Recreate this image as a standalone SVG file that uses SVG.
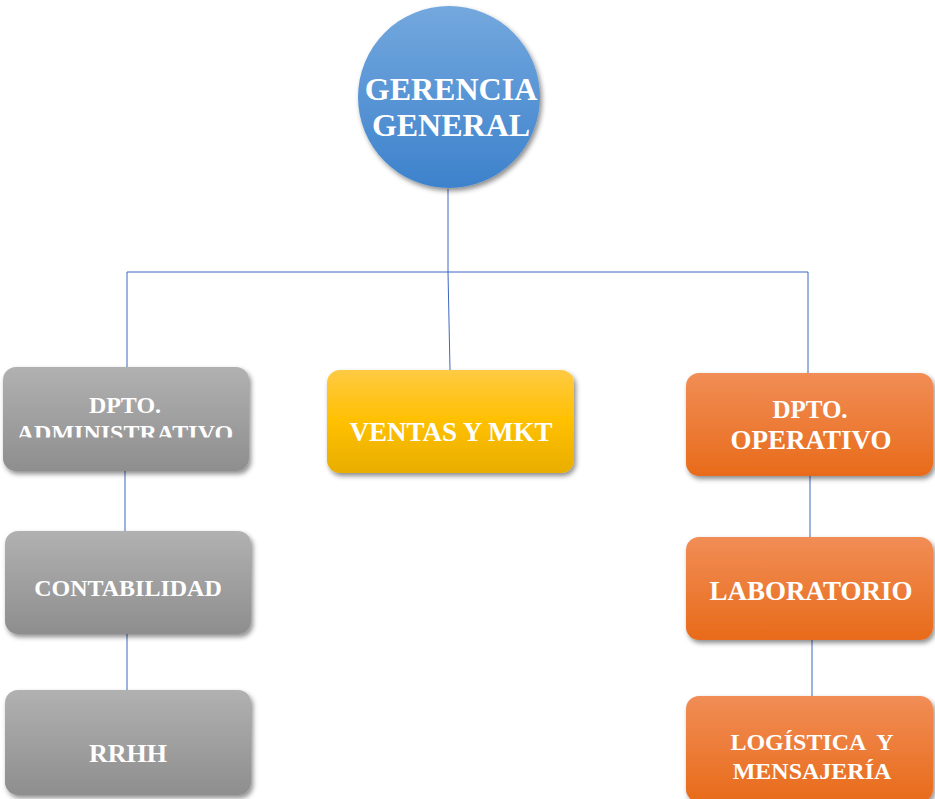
<svg xmlns="http://www.w3.org/2000/svg" width="935" height="799" viewBox="0 0 935 799">
<defs>
<linearGradient id="gBlue" x1="0" y1="0" x2="0" y2="1"><stop offset="0" stop-color="#74a8de"/><stop offset="1" stop-color="#3d82cc"/></linearGradient>
<linearGradient id="gGray" x1="0" y1="0" x2="0" y2="1"><stop offset="0" stop-color="#b1b1b1"/><stop offset="1" stop-color="#8e8e8e"/></linearGradient>
<linearGradient id="gYel" x1="0" y1="0" x2="0" y2="1"><stop offset="0" stop-color="#ffca43"/><stop offset="0.5" stop-color="#ffc000"/><stop offset="1" stop-color="#e8ae00"/></linearGradient>
<linearGradient id="gOr" x1="0" y1="0" x2="0" y2="1"><stop offset="0" stop-color="#f18d56"/><stop offset="1" stop-color="#e86b1a"/></linearGradient>
<filter id="sh" x="-10%" y="-10%" width="125%" height="130%"><feDropShadow dx="2" dy="3" stdDeviation="2.5" flood-color="#000" flood-opacity="0.45"/></filter>
<clipPath id="clipAdm"><rect x="0" y="380" width="260" height="57.5"/></clipPath>
</defs>
<style>
.t{font-family:"Liberation Serif","Times New Roman",serif;font-weight:bold;fill:#fff;text-anchor:middle}
.c{stroke:#3d68c0;stroke-width:1;fill:none}
</style>
<g id="connectors">
<path class="c" d="M448 189 V272 M127 272 H808 M127 272 V367 M448 272 L450 370 M808 272 V373 M125 471 V531 M127 634 V690 M810 476 V537 M812 640 V696"/>
</g>
<g id="gerencia">
<circle cx="449" cy="97" r="91" fill="url(#gBlue)" filter="url(#sh)"/>
<text class="t" x="451" y="100" font-size="32">GERENCIA</text>
<text class="t" x="451" y="136" font-size="32">GENERAL</text>
</g>
<g id="administrativo">
<rect x="3" y="367" width="246" height="104" rx="13" fill="url(#gGray)" filter="url(#sh)"/>
<g clip-path="url(#clipAdm)">
<text class="t" x="125" y="413" font-size="24">DPTO.</text>
<text class="t" x="125" y="441" font-size="24">ADMINISTRATIVO</text>
</g>
</g>
<g id="ventas">
<rect x="327" y="370" width="247" height="103" rx="13" fill="url(#gYel)" filter="url(#sh)"/>
<text class="t" x="451" y="441" font-size="27">VENTAS Y MKT</text>
</g>
<g id="operativo">
<rect x="686" y="373" width="247" height="103" rx="13" fill="url(#gOr)" filter="url(#sh)"/>
<text class="t" x="810" y="418" font-size="25">DPTO.</text>
<text class="t" x="811" y="449" font-size="27">OPERATIVO</text>
</g>
<g id="contabilidad">
<rect x="5" y="531" width="246" height="103" rx="13" fill="url(#gGray)" filter="url(#sh)"/>
<text class="t" x="128" y="596" font-size="24">CONTABILIDAD</text>
</g>
<g id="rrhh">
<rect x="5" y="690" width="246" height="105" rx="13" fill="url(#gGray)" filter="url(#sh)"/>
<text class="t" x="128" y="762" font-size="26">RRHH</text>
</g>
<g id="laboratorio">
<rect x="686" y="537" width="247" height="103" rx="13" fill="url(#gOr)" filter="url(#sh)"/>
<text class="t" x="811" y="600" font-size="27">LABORATORIO</text>
</g>
<g id="logistica">
<rect x="686" y="696" width="247" height="106" rx="13" fill="url(#gOr)" filter="url(#sh)"/>
<text class="t" x="812" y="750" font-size="24" xml:space="preserve">LOGÍSTICA  Y</text>
<text class="t" x="812" y="779" font-size="24">MENSAJERÍA</text>
</g>
</svg>
